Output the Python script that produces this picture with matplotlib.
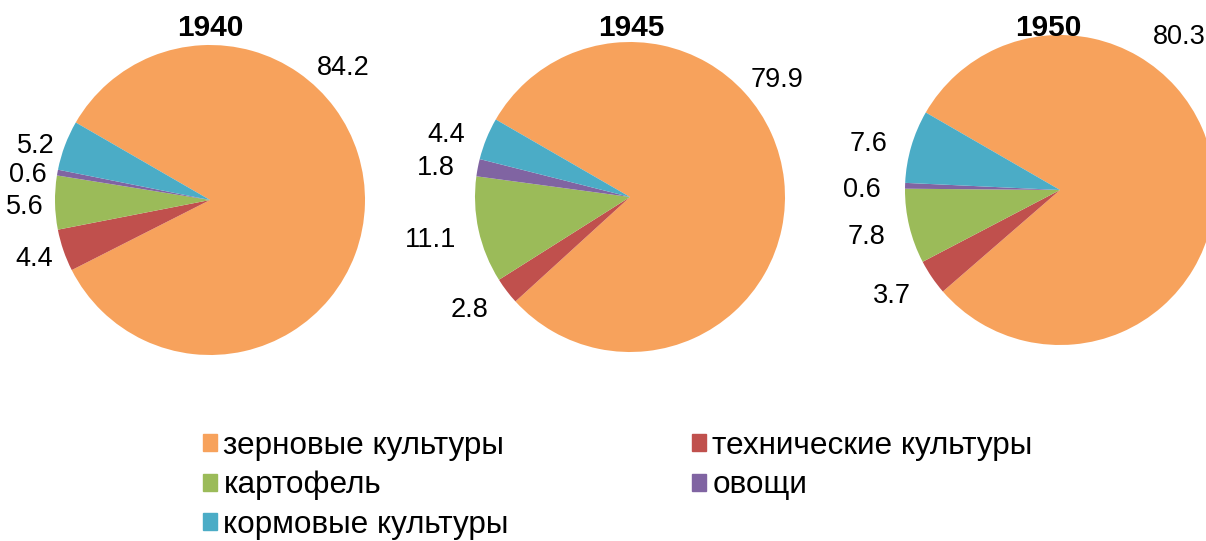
import numpy as np
import matplotlib.pyplot as plt
from matplotlib.patches import Patch

plt.rcParams["font.family"] = ["Liberation Sans", "DejaVu Sans"]

categories = ["зерновые культуры", "технические культуры", "картофель", "овощи", "кормовые культуры"]
years = ["1940", "1945", "1950"]
v1940 = [84.2, 4.4, 5.6, 0.6, 5.2]
v1945 = [79.9, 2.8, 11.1, 1.8, 4.4]
v1950 = [80.3, 3.7, 7.8, 0.6, 7.6]
colors = ["#F7A25C", "#C0504D", "#9BBB59", "#8064A2", "#4BACC6"]

# layout in pixels
W, H = 1206, 541
centers = [(210, 200), (630, 197), (1060, 190)]
R = 155
title_x = [210, 631, 1048]
label_d = [1.07, 1.15, 1.16]
big_label = [(44.8, 1.21), (38.5, 1.21), (52, 1.25)]

fig = plt.figure(figsize=(W / 100, H / 100), dpi=100)

for i, vals in enumerate([v1940, v1945, v1950]):
    cx, cy = centers[i]
    ax = fig.add_axes([(cx - R) / W, (H - cy - R) / H, 2 * R / W, 2 * R / H])
    wedges, texts = ax.pie(vals, colors=colors, startangle=150, counterclock=False,
                           labels=[f"{v:.1f}" for v in vals], labeldistance=label_d[i],
                           wedgeprops=dict(linewidth=0),
                           textprops=dict(fontsize=19.5))
    ax.set_xlim(-1, 1)
    ax.set_ylim(-1, 1)
    ax.set_aspect("equal")
    for t in texts[1:]:
        x, y = t.get_position()
        t.set_position((x, y - 0.03))
    ang, d = big_label[i]
    texts[0].set_position((d * np.cos(np.radians(ang)), d * np.sin(np.radians(ang))))
    texts[0].set_ha("center")
    fig.text(title_x[i] / W, 1 - 28 / H, years[i], ha="center", va="center",
             fontsize=21.5, fontweight="bold")

handles = [Patch(color=c, label=l) for c, l in zip(colors, categories)]
order = [0, 2, 4, 1, 3]
fig.legend([handles[k] for k in order], [categories[k] for k in order],
           loc="upper left", bbox_to_anchor=(203 / W, 1 - 431 / H), ncol=2,
           frameon=False, fontsize=22.7, handlelength=0.45, handleheight=0.45,
           handletextpad=0.2, columnspacing=5.8, labelspacing=0.3,
           borderaxespad=0, borderpad=0)

fig.savefig("out.png", dpi=100)
